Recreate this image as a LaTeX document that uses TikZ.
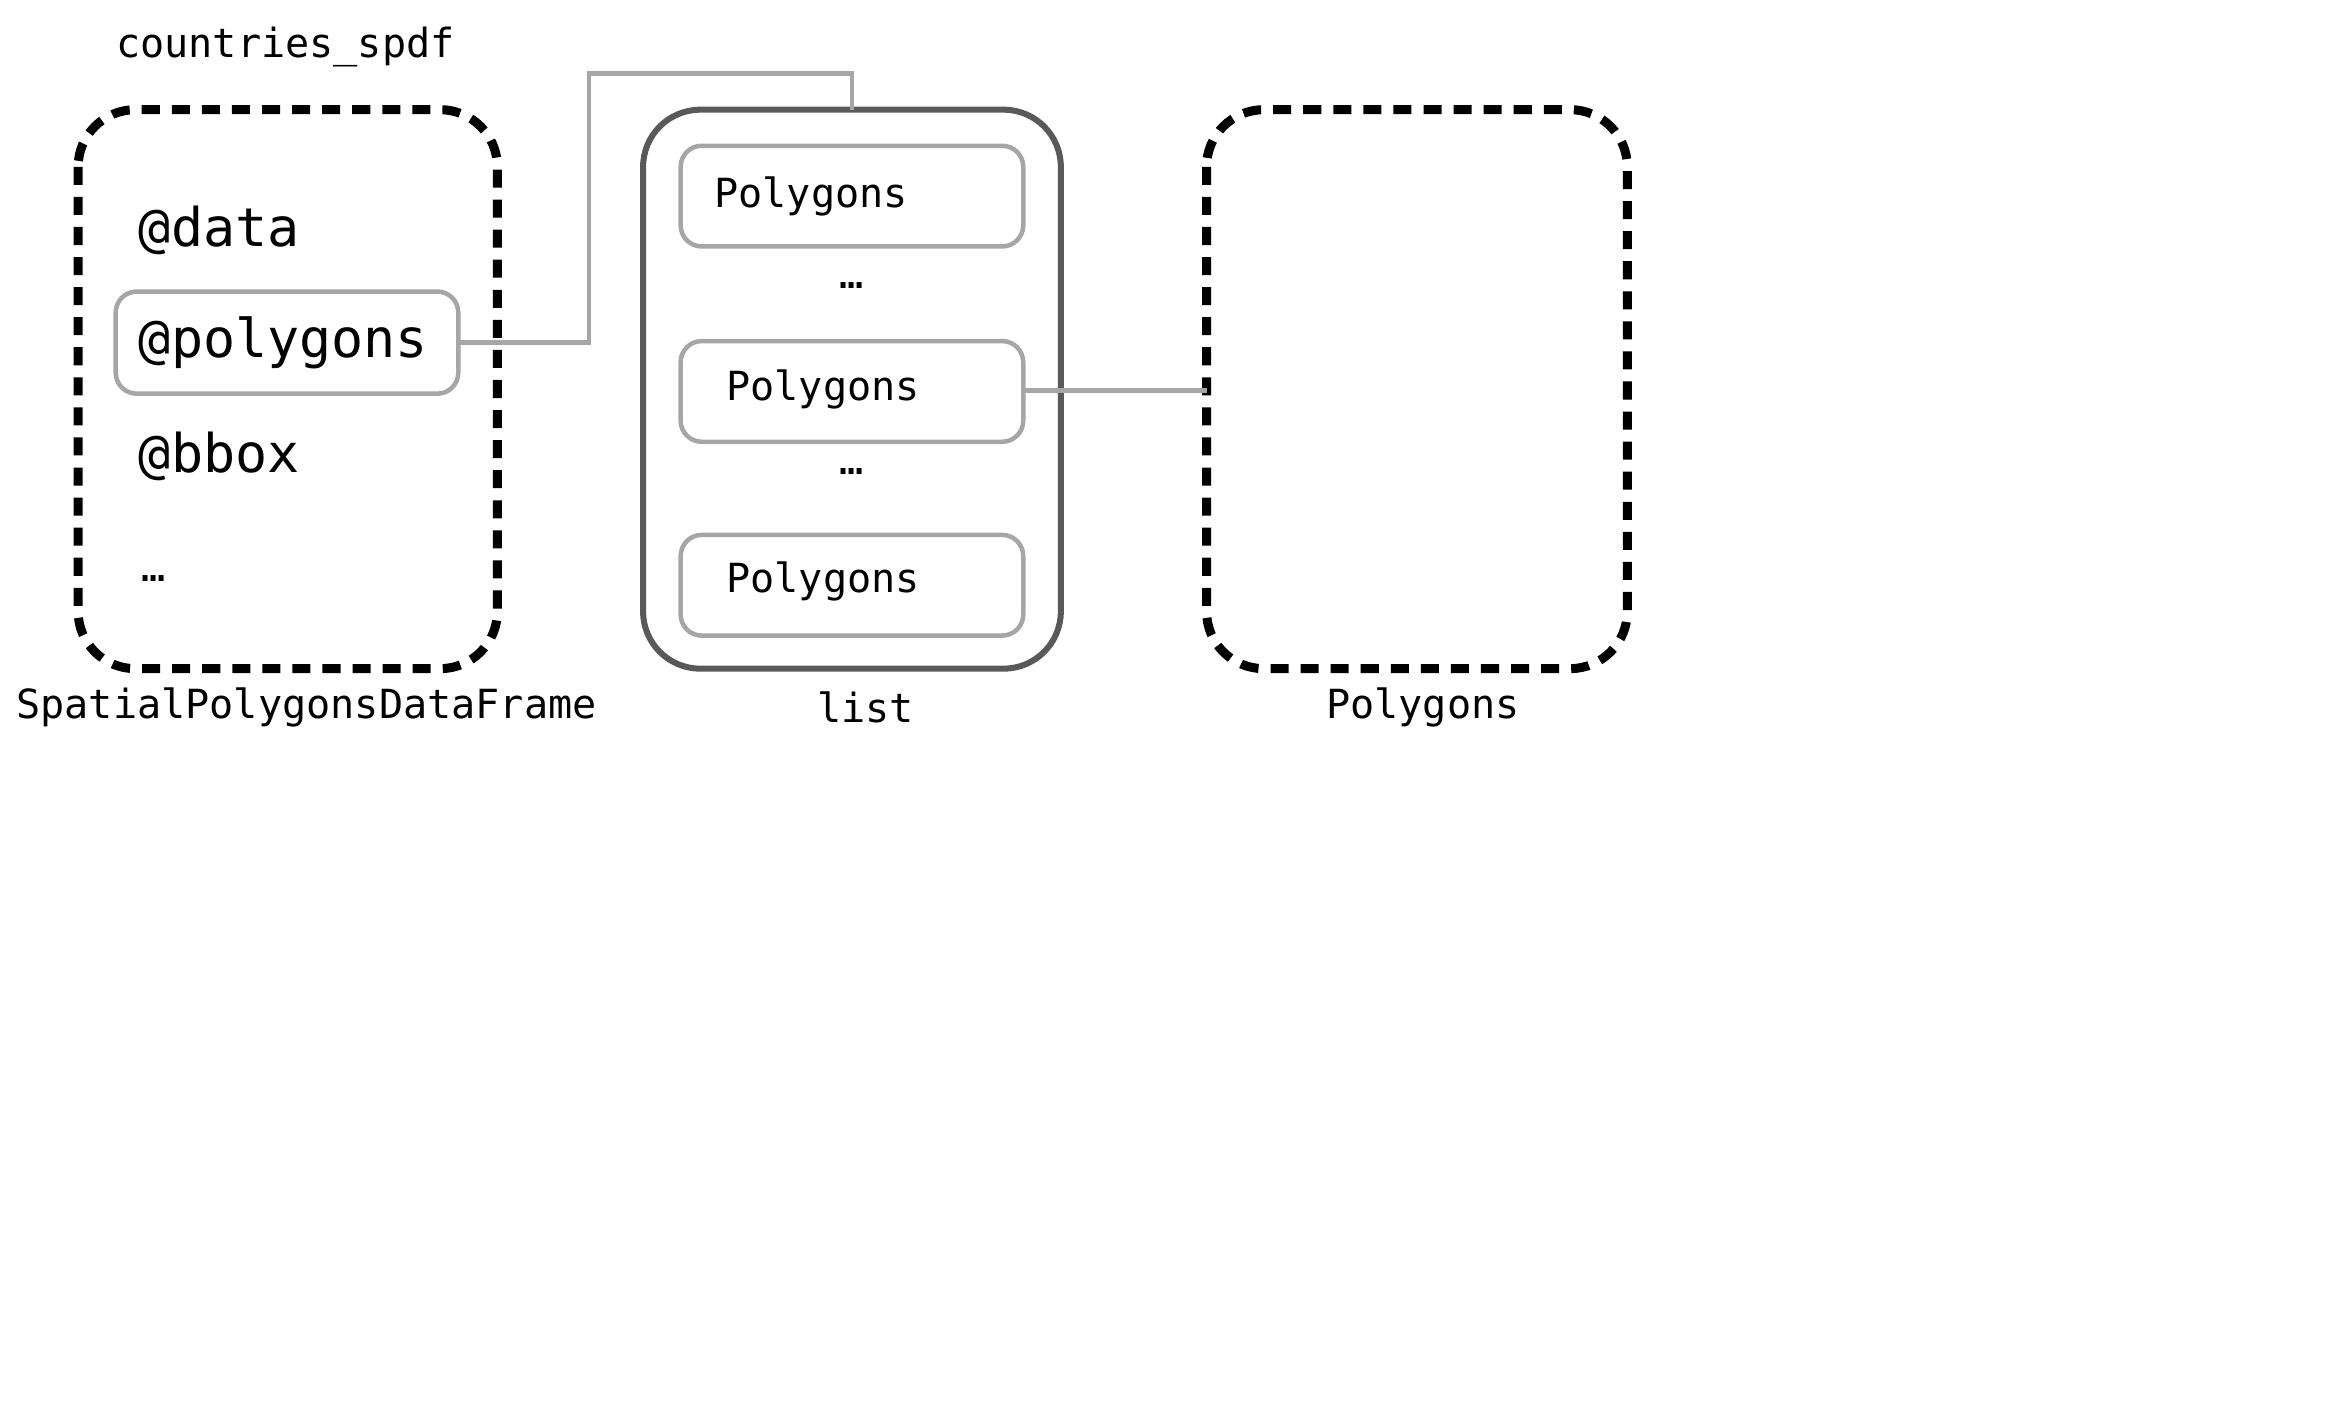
\documentclass[tikz,border=0pt]{standalone}
\usepackage{fontspec}
\setmonofont{DejaVu Sans Mono}
\usetikzlibrary{positioning,calc}

\begin{document}
\begin{tikzpicture}[x=0.01cm,y=-0.01cm,
  outerbox/.style={draw=black,line width=0.06cm,dash pattern=on 0.12cm off 0.08cm,rounded corners=0.38cm},
  listbox/.style={draw=black!65,line width=0.04cm,rounded corners=0.38cm},
  slotbox/.style={draw=black!35,line width=0.03cm,rounded corners=0.14cm},
  bigtext/.style={font=\ttfamily\fontsize{10.1}{12}\selectfont,anchor=west},
  smalltext/.style={font=\ttfamily\fontsize{7.6}{9}\selectfont},
  link/.style={draw=black!35,line width=0.03cm}]
\useasboundingbox (0,0) rectangle (1560,933);

% SpatialPolygonsDataFrame
\draw[outerbox] (52,73) rectangle (331,445);
\node[smalltext] (name) at (190,31) {countries\_spdf};
\node[bigtext] (data) at (80,153) {@data};
\draw[slotbox] (77,194) rectangle (305,262);
\coordinate (polyR) at (305,228);
\node[bigtext] (polys) at (80,228) {@polygons};
\node[bigtext] (bbox) at (80,304) {@bbox};
\node[smalltext,anchor=west] (more) at (82,385) {\dots};
\node[smalltext] (spdfl) at (204,471) {SpatialPolygonsDataFrame};

% list
\draw[listbox] (428,73) rectangle (706,445);
\coordinate (listT) at (567,73);
\draw[slotbox] (453,97) rectangle (681,164);
\node[smalltext,anchor=west] (p1) at (463,131) {Polygons};
\node[smalltext] (d1) at (567,190) {\dots};
\draw[slotbox] (453,227) rectangle (681,294);
\coordinate (p2R) at (681,260);
\node[smalltext,anchor=west] (p2) at (471,259) {Polygons};
\node[smalltext] (d2) at (567,314) {\dots};
\draw[slotbox] (453,356) rectangle (681,423);
\node[smalltext,anchor=west] (p3) at (471,387) {Polygons};
\node[smalltext] (listl) at (576,471) {list};

% Polygons
\draw[outerbox] (803,73) rectangle (1083,445);
\coordinate (polyL) at (803,260);
\node[smalltext] (polyl) at (947,471) {Polygons};

% links
\draw[link] (polyR) -- (392,228) -- (392,49) -- (567,49) -- (listT);
\draw[link] (p2R) -- (polyL);
\end{tikzpicture}
\end{document}
